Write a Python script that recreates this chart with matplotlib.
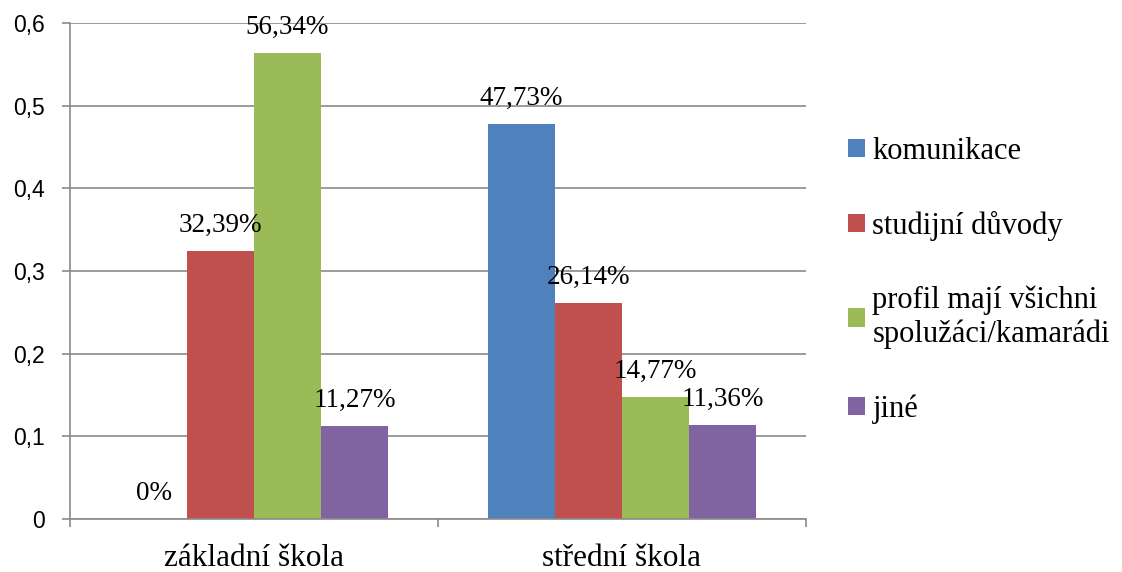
import matplotlib
matplotlib.use("Agg")
import matplotlib.pyplot as plt
import numpy as np

categories = ["základní škola", "střední škola"]
series = ["komunikace", "studijní důvody",
          "profil mají všichni\nspolužáci/kamarádi", "jiné"]
values = {
    "komunikace": [0.0, 0.4773],
    "studijní důvody": [0.3239, 0.2614],
    "profil mají všichni\nspolužáci/kamarádi": [0.5634, 0.1477],
    "jiné": [0.1127, 0.1136],
}
labels = {
    "komunikace": ["0%", "47,73%"],
    "studijní důvody": ["32,39%", "26,14%"],
    "profil mají všichni\nspolužáci/kamarádi": ["56,34%", "14,77%"],
    "jiné": ["11,27%", "11,36%"],
}
yticks = [0, 0.1, 0.2, 0.3, 0.4, 0.5, 0.6]
ytick_labels = ["0", "0,1", "0,2", "0,3", "0,4", "0,5", "0,6"]

colors = ["#4F81BD", "#C0504D", "#9BBB59", "#8064A2"]
grid_c = "#8A8A8A"
serif = "Liberation Serif"
sans = "Liberation Sans"

fig = plt.figure(figsize=(11.22, 5.72), dpi=100)
ax = fig.add_axes([70 / 1122, 1 - 519 / 572, 736 / 1122, 496 / 572])

x = np.arange(len(categories))
w = 0.182
for i, s in enumerate(series):
    pos = x + (i - 1.5) * w
    bars = ax.bar(pos, values[s], w, color=colors[i], label=s, zorder=2)
    for b, lab in zip(bars, labels[s]):
        ax.annotate(lab, (b.get_x() + b.get_width() / 2, b.get_height()),
                    xytext=(0, 13.7), textcoords="offset points",
                    ha="center", va="baseline", fontsize=19.5, family=serif,
                    zorder=3)

ax.set_xlim(-0.5, 1.5)
ax.set_ylim(0, 0.6)
ax.set_yticks(yticks)
ax.set_yticklabels(ytick_labels, family=sans, fontsize=16.5)
ax.yaxis.grid(True, color=grid_c, linewidth=1.2, zorder=0)
ax.tick_params(axis="y", length=6, width=1.2, color=grid_c, pad=12)

ax.set_xticks(x)
ax.set_xticklabels(categories, family=serif, fontsize=22.5)
ax.set_xticks([-0.5, 0.5, 1.5], minor=True)
ax.tick_params(axis="x", which="major", length=0, pad=18)
ax.tick_params(axis="x", which="minor", length=6, width=1.2, color=grid_c)

for side in ["top", "right"]:
    ax.spines[side].set_visible(False)
for side in ["left", "bottom"]:
    ax.spines[side].set_color(grid_c)
    ax.spines[side].set_linewidth(1.2)

fig.legend(loc="center left", bbox_to_anchor=(848 / 1122, 0.51),
           frameon=False, prop={"family": serif, "size": 22},
           handlelength=0.55, handleheight=0.55, handletextpad=0.25,
           labelspacing=1.47, borderpad=0, borderaxespad=0)

fig.savefig("out.png", dpi=100)
